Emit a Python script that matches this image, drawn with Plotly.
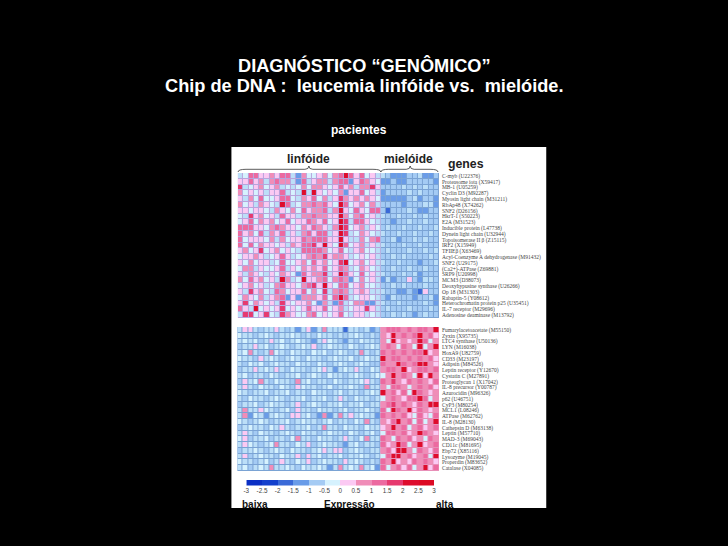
import plotly.graph_objects as go

# Expression level per cell, in half units (value = level / 2); rows run top to bottom.
TOP_LINF_A = [
[-1,0,3,3,1,1,2,1,3,3,-1,-3,2,0,0,1,2,0,2],
[1,1,3,1,2,-1,2,3,2,2,-1,-3,3,-1,1,2,2,-1,2],
[4,-1,0,1,2,0,1,2,-1,0,-1,0,2,0,2,2,1,0,1],
[2,0,1,0,1,-1,1,1,3,-1,0,-1,5,-1,5,1,0,1,0],
[1,-1,2,0,3,0,0,1,3,3,0,-1,2,1,3,0,2,-1,1],
[2,0,1,-1,2,1,0,-1,5,3,-1,0,2,2,3,2,3,1,0],
[1,1,0,1,1,0,-1,2,1,0,2,0,3,1,2,2,3,-1,2],
[0,-1,4,1,2,0,1,-1,3,1,1,-1,2,2,3,2,2,1,1],
[0,1,3,0,2,1,2,0,1,3,0,1,1,3,2,1,3,0,1],
[3,3,3,1,1,0,2,3,2,1,1,0,2,1,3,2,1,-1,2],
[3,1,2,0,3,-1,2,1,3,-1,1,-1,2,3,1,3,3,-1,1],
[3,0,1,1,1,0,2,-1,2,0,1,1,3,2,3,3,3,1,1],
[3,0,3,0,2,1,1,0,1,-1,2,1,3,3,4,1,5,1,0],
[1,2,0,1,4,0,1,2,0,1,0,-1,3,3,3,3,2,0,1],
[0,1,1,2,1,-1,0,1,3,1,-1,0,1,2,3,2,4,1,2],
[1,0,2,0,1,1,-1,0,3,0,0,1,2,0,3,1,2,0,1],
[0,2,2,-1,1,0,0,1,3,-1,1,0,2,1,2,1,3,0,1],
[1,-1,2,1,0,-1,1,0,2,1,0,-3,3,1,2,2,4,-1,1],
[2,0,3,1,2,0,1,-1,5,2,-1,0,5,1,1,2,3,0,2],
[0,1,2,0,1,-1,0,2,3,1,1,0,2,3,4,1,5,1,0],
[1,-1,4,1,2,0,-1,3,2,0,1,1,3,0,2,0,4,-1,2],
[0,2,1,0,2,-1,1,2,3,-3,1,-3,2,2,2,1,3,0,3],
[1,4,0,2,1,0,1,-1,4,1,0,1,1,2,0,-3,2,-1,-3],
[3,1,-1,5,0,1,0,1,4,0,1,0,1,3,1,1,3,0,1],
[-1,4,4,0,1,4,0,-1,4,2,1,0,0,2,3,0,1,0,1],
]
TOP_LINF_B = [
[3,5,3,1,3,0,1,-1],
[3,3,-3,1,3,2,1,0],
[3,1,2,-1,2,2,4,1],
[2,-3,1,1,3,0,1,-1],
[4,2,1,2,1,2,1,0],
[5,3,0,1,2,0,2,-1],
[5,1,0,3,1,0,3,3],
[5,2,0,2,3,0,1,-1],
[5,4,-1,3,3,1,0,-1],
[5,4,0,1,2,-1,1,0],
[5,4,-1,0,2,1,0,-1],
[5,1,-1,-1,2,0,2,3],
[5,3,0,1,2,-1,1,-1],
[3,0,-1,1,2,0,0,-1],
[2,1,-1,0,1,0,1,-1],
[4,5,0,1,2,0,1,-1],
[3,2,-1,0,2,1,0,-1],
[5,3,1,0,3,0,1,-1],
[3,2,-3,0,2,0,1,-1],
[3,3,0,1,2,0,0,-1],
[3,2,-1,1,2,1,-1,-1],
[5,3,-1,0,1,1,0,-1],
[3,-1,0,2,2,-3,-3,-1],
[2,-1,0,1,1,4,1,-1],
[3,0,-1,1,1,-1,0,-1],
]
TOP_MIEL = [
[-1,-2,-3,-3,-3,-2,-2,-1,-3,-3,-2],
[-3,-3,-2,-3,-3,-2,-2,-2,-2,-2,-3],
[-2,-2,-2,-2,-1,-2,-1,-2,-1,-2,-2],
[-3,-2,-2,-2,-2,-1,-2,-1,-2,-2,-2],
[-3,-3,-3,-3,-3,-2,-1,-3,-2,-2,-3],
[-2,-2,-2,-2,-3,-2,-2,-2,-1,-1,-3],
[-2,-4,-2,-2,-2,-1,-2,-3,-3,-2,-2],
[-1,-2,-2,-1,-2,-2,-1,-2,-1,-2,-2],
[-2,-2,-3,-2,-2,-1,-2,-2,-1,-2,-2],
[-2,-1,-2,-2,-1,-2,-2,-1,-2,-2,-1],
[-1,-2,-2,-1,-2,-2,-1,-2,-2,-1,-2],
[-2,-2,-1,-3,-2,-2,-1,-2,-1,-2,-2],
[-1,-2,-2,-2,-1,-2,-2,-1,-2,-2,-2],
[-2,-1,-2,-2,-2,-1,-2,-2,-1,-2,-1],
[-2,-2,-1,-2,-1,-2,-2,-2,-2,-1,-2],
[-1,-2,-2,-1,-2,-2,-2,-3,-2,-2,-1],
[-2,-2,-1,-2,-2,-1,-2,-2,-1,-2,-2],
[-1,-2,-2,-2,-1,-2,-1,-3,-2,-2,-2],
[-3,-1,-3,-2,-2,1,-2,-3,-1,-1,-2],
[-2,-2,-1,-2,-1,-2,-2,-2,-1,-2,-2],
[-1,-2,-2,-3,-3,-2,-3,-4,1,-2,-2],
[-2,-3,-1,-2,-2,-2,-3,-2,-2,-1,-3],
[-1,-2,-2,-1,-2,-2,-2,-2,-1,-2,-3],
[-2,-1,-2,-2,-2,-1,-2,-2,-2,-1,-2],
[-2,-2,-1,-2,-1,-2,-3,-2,-1,-2,-2],
]
BOTTOM_LINF = [
[-1,1,1,-1,-2,-1,-1,1,-1,-2,-1,-3,-1,1,-3,-1,2,-1,-1,-1,-4,-1,-1,-2,-1,-3,-2],
[0,-1,-1,-2,-1,0,-1,-2,-1,-1,0,-1,-2,-1,-2,0,-1,-1,-2,-1,-2,-1,0,-1,-2,-1,-2],
[-1,0,-1,0,-2,-1,1,-1,0,-2,-1,0,-1,-2,-3,-1,1,0,-1,-2,-3,-1,-2,0,-1,-1,-2],
[-2,-1,-1,1,-1,0,-2,-1,0,-1,-2,-1,0,-1,1,-2,-1,0,-1,-1,-2,0,-1,-2,-1,0,-1],
[-1,0,2,-1,-2,-1,2,0,-1,-2,0,-1,-1,-2,0,-1,0,-2,-1,0,-1,-2,-1,2,-1,-2,-1],
[0,-1,-1,-2,1,-1,0,-1,-2,-1,0,-1,-2,0,-1,-1,-2,-1,0,-1,-1,0,-2,-1,0,-1,-1],
[-1,-2,0,-1,0,-2,-1,0,-1,-1,-2,0,-1,-1,-2,0,-1,-2,-1,0,-1,-2,-1,0,-1,-2,-2],
[-2,-1,-1,1,-1,0,-1,1,-1,-2,0,-1,-1,-2,-1,0,1,-1,-3,-1,0,-1,1,-1,-2,0,-1],
[-1,0,-2,-1,-1,-2,0,-1,-2,-1,-1,0,-2,-1,0,-1,-2,0,-1,-1,-2,-1,0,-1,-2,-1,0],
[-2,1,-1,0,2,-1,-2,0,-1,-1,-2,2,-1,0,-2,-1,-1,-2,0,-1,-2,-1,-1,0,1,-1,-2],
[-1,1,-1,-2,0,-1,-1,-2,0,-1,-2,1,0,-1,-1,-2,-1,0,-2,-1,-1,0,-1,-2,2,-1,-1],
[0,-1,-2,-1,-1,0,-2,-1,-1,0,-2,-1,-1,-2,0,-1,-1,-2,-1,0,-2,-1,-1,-2,-1,0,-1],
[-1,-2,0,-1,-1,-2,-1,0,-1,-2,-1,-1,0,-2,-1,-1,0,-2,-1,1,-1,-2,0,-1,-1,-2,-1],
[-2,-1,-1,0,-2,-1,0,-1,-1,-2,-1,1,-2,-1,0,-1,-2,-1,-1,0,-2,-1,-1,0,-2,-1,-1],
[-1,2,-1,-1,1,0,-1,-2,-1,0,-2,1,-1,-1,-2,0,-1,-1,-2,-1,0,-2,-1,-1,0,-1,-2],
[-1,2,-3,0,-1,-3,-1,0,-1,-2,1,1,-1,0,-2,-3,2,-3,-1,2,-1,1,-1,0,-1,-1,-3],
[0,-1,-2,-1,0,-1,-2,-1,-1,0,-2,-1,0,-1,-1,-2,-1,0,-2,-1,-1,-2,0,-1,2,-1,-2],
[-2,-1,0,-1,-1,-2,0,-1,1,-1,-2,-1,-1,0,-2,-1,2,-1,-1,-2,0,-1,-1,-2,0,-1,-1],
[-1,1,-1,-2,0,-1,-1,-2,-1,0,-1,-2,0,-1,-1,-2,-1,0,-1,-1,-2,0,-1,-2,-1,0,-2],
[0,1,-2,-1,-1,0,-2,-1,-1,-2,0,2,-1,-1,-2,0,-1,-1,-2,-1,1,-1,-2,0,2,-1,-1],
[-1,1,0,-1,-2,-1,0,2,-1,-1,-2,0,-1,1,-2,-1,0,-1,-1,-2,-3,-1,0,-2,-1,-1,-2],
[-2,-1,-1,0,-1,-2,-1,0,-1,-2,0,-1,-1,-2,-1,0,1,-1,1,1,-2,-1,0,-1,-2,-1,-1],
[-1,1,-2,-1,0,-1,-1,-2,0,-1,-1,1,-2,1,-1,0,-2,-1,-1,0,-2,-1,-1,0,-1,-2,-1],
[0,-1,-1,-2,-1,0,-2,-1,1,-1,-2,0,-1,1,-2,-1,0,-1,-1,-2,1,-1,0,-1,-2,-1,-2],
[-1,0,-2,-1,0,-1,2,-1,-1,0,-1,-2,0,-1,-1,0,-1,-3,-1,2,-1,0,-1,2,-1,0,-3],
]
BOTTOM_MIEL = [
[2,3,3,3,2,3,2,3,3,2,5],
[2,1,5,2,3,2,3,5,2,3,1],
[2,0,5,1,2,1,2,5,3,0,2],
[2,3,2,0,3,2,0,5,0,2,5],
[3,2,3,2,3,2,3,3,5,1,2],
[5,2,3,3,2,3,2,3,2,3,1],
[3,2,2,5,3,2,3,5,5,2,1],
[2,3,3,2,5,1,2,3,3,2,3],
[0,2,5,2,3,2,0,5,1,5,2],
[3,2,4,2,1,3,2,3,2,1,3],
[2,0,3,3,2,0,2,3,2,3,1],
[5,2,3,1,3,0,5,3,2,1,2],
[0,2,3,2,1,3,3,5,3,0,2],
[2,3,4,2,3,2,1,3,2,5,5],
[3,0,5,3,2,5,1,3,2,1,2],
[3,2,3,2,3,1,0,3,1,0,3],
[2,1,3,5,2,3,0,3,0,2,5],
[1,2,5,2,3,0,2,3,1,2,3],
[0,3,3,2,3,1,2,5,3,2,1],
[3,2,0,3,2,3,1,2,0,3,2],
[3,1,2,5,3,0,2,5,1,2,3],
[2,3,1,5,5,2,0,3,2,1,3],
[0,3,5,5,2,3,1,2,3,0,5],
[3,2,5,1,2,1,3,2,3,2,1],
[3,0,2,3,1,3,0,2,5,1,3],
]
GENES_TOP = [
"C-myb (U22376)", "Proteasome iota (X59417)", "MB-1 (U05259)", "Cyclin D3 (M92287)",
"Myosin light chain (M31211)", "RbAp48 (X74262)", "SNF2 (D26156)", "HkrT-1 (S50223)",
"E2A (M31523)", "Inducible protein (L47738)", "Dynein light chain (U32944)",
"Topoisomerase II β (Z15115)", "IRF2 (X15949)", "TFIIEβ (X63469)",
"Acyl-Coenzyme A dehydrogenase (M91432)", "SNF2 (U29175)", "(Ca2+)-ATPase (Z69881)",
"SRP9 (U20998)", "MCM3 (D38073)", "Deoxyhypusine synthase (U26266)", "Op 18 (M31303)",
"Rabaptin-5 (Y08612)", "Heterochromatin protein p25 (U35451)", "IL-7 receptor (M29696)",
"Adenosine deaminase (M13792)",
]
GENES_BOTTOM = [
"Fumarylacetoacetate (M55150)", "Zyxin (X95735)", "LTC4 synthase (U50136)", "LYN (M16038)",
"HoxA9 (U82759)", "CD33 (M23197)", "Adipsin (M84526)", "Leptin receptor (Y12670)",
"Cystatin C (M27891)", "Proteoglycan 1 (X17042)", "IL-8 precursor (Y00787)",
"Azurocidin (M96326)", "p62 (U46751)", "CyP3 (M80254)", "MCL1 (L08246)", "ATPase (M62762)",
"IL-8 (M28130)", "Cathepsin D (M63138)", "Leptin (M57710)", "MAD-3 (M69043)",
"CD11c (M81695)", "Ebp72 (X85116)", "Lysozyme (M19045)", "Properdin (M83652)",
"Catalase (X04085)",
]
SCALE_TICKS = [-3, -2.5, -2, -1.5, -1, -0.5, 0, 0.5, 1, 1.5, 2, 2.5, 3]
SCALE_BINS = [-2.75, -2.25, -1.75, -1.25, -0.75, -0.25, 0.25, 0.75, 1.25, 1.75, 2.25, 2.75]
SCALE_VALUES = [-3, -2.5, -2, -1.5, -1, 0, 0.5, 1, 1.5, 2, 2.5, 3]

STOPS = [
    (-3, "#0b2fc4"), (-2.5, "#1440cc"), (-2, "#3a6ad8"), (-1.5, "#6a9ce8"), (-1, "#a4cbf4"),
    (-0.5, "#bcdff8"), (0, "#d6f2fe"), (0.5, "#fbc9f3"), (1, "#f08db8"), (1.5, "#ec6aa0"),
    (2, "#e63a70"), (2.5, "#de0c2c"), (3, "#dc0a24"),
]
COLORSCALE = [[(v + 3) / 6, c] for v, c in STOPS]
W, H = 728, 546
GRID_BLUE = "#7aa3d4"
GRID_MIXED = "#b8a4dc"
GRID_PINK = "#e88fb8"


def px(x):
    return x / W


def py(y):
    return 1 - y / H


top = [[v / 2 for v in a + b + c] for a, b, c in zip(TOP_LINF_A, TOP_LINF_B, TOP_MIEL)]
bottom = [[v / 2 for v in a + b] for a, b in zip(BOTTOM_LINF, BOTTOM_MIEL)]
for row in top + bottom:
    assert len(row) == 38

fig = go.Figure()
common = dict(colorscale=COLORSCALE, zmin=-3, zmax=3, showscale=False, hoverinfo="skip")
fig.add_trace(go.Heatmap(z=top, y=GENES_TOP, xgap=1, ygap=1, xaxis="x", yaxis="y", **common))
fig.add_trace(go.Heatmap(z=bottom, y=GENES_BOTTOM, xgap=1, ygap=1, xaxis="x2", yaxis="y2", **common))
fig.add_trace(go.Heatmap(z=[SCALE_VALUES], x=SCALE_BINS, y=[""], xaxis="x3", yaxis="y3", **common))

gene_axis = dict(type="category", autorange="reversed", side="right", showgrid=False, zeroline=False,
                 ticks="", ticklabelstandoff=2,
                 tickfont=dict(family="Liberation Serif", size=5.5, color="#444444"),
                 dtick=1, automargin=False)
plain_x = dict(showgrid=False, zeroline=False, showticklabels=False, ticks="")
fig.update_layout(
    width=W, height=H, margin=dict(l=0, r=0, t=0, b=0), autosize=False,
    paper_bgcolor="black", plot_bgcolor="rgba(0,0,0,0)", showlegend=False,
    xaxis=dict(domain=[px(236.5), px(439)], anchor="y", **plain_x),
    yaxis=dict(domain=[py(318), py(173)], anchor="x", **gene_axis),
    xaxis2=dict(domain=[px(236), px(439)], anchor="y2", **plain_x),
    yaxis2=dict(domain=[py(471), py(327)], anchor="x2", **gene_axis),
    xaxis3=dict(domain=[px(245), px(434)], anchor="y3", range=[-3, 3], tickvals=SCALE_TICKS,
                ticktext=[f"{t:g}" for t in SCALE_TICKS], showgrid=False, zeroline=False,
                ticks="", tickfont=dict(family="Liberation Sans", size=6.3, color="#444444"), tickangle=0),
    yaxis3=dict(domain=[py(485.5), py(480)], anchor="x3", showticklabels=False, showgrid=False,
                zeroline=False, ticks=""),
)


def brace(x0, xm, x1):
    t, b = 166, 172
    m = 169.3
    pts = [f"M{px(x0)},{py(b)}", f"Q{px(x0)},{py(m)} {px(x0+8)},{py(m)}",
           f"L{px(xm-4)},{py(m)}", f"Q{px(xm)},{py(m)} {px(xm)},{py(t)}",
           f"Q{px(xm)},{py(m)} {px(xm+4)},{py(m)}", f"L{px(x1-8)},{py(m)}",
           f"Q{px(x1)},{py(m)} {px(x1)},{py(b)}"]
    return dict(type="path", xref="paper", yref="paper", path=" ".join(pts),
                line=dict(color="#333333", width=0.8), layer="above")


def panel(x0, x1, y0, y1, color):
    return dict(type="rect", xref="paper", yref="paper", x0=px(x0), x1=px(x1), y0=py(y1), y1=py(y0),
                fillcolor=color, line=dict(width=0), layer="below")


fig.update_layout(shapes=[
    panel(230, 547, 147, 508, "white"),
    panel(236.5, 380.4, 173, 318, GRID_MIXED),
    panel(380.4, 439, 173, 318, GRID_BLUE),
    panel(236, 380.2, 327, 471, GRID_BLUE),
    panel(380.2, 439, 327, 471, GRID_PINK),
    brace(236.7, 308, 380.5),
    brace(380.5, 410, 438),
])


def label(text, x, y, size, color="white", family="Liberation Sans", bold=True):
    fig.add_annotation(xref="paper", yref="paper", x=px(x), y=py(y), showarrow=False,
                       xanchor="center", yanchor="middle",
                       text=f"<b>{text}</b>" if bold else text,
                       font=dict(family=family, size=size, color=color))


label("DIAGNÓSTICO “GENÔMICO”", 364, 65, 18.2)
label("Chip de DNA :  leucemia linfóide vs.  mielóide.", 364, 86, 18.2)
label("pacientes", 358, 130, 12)
label("linfóide", 308, 159, 12, "#222222")
label("mielóide", 408, 159, 12, "#222222")
label("genes", 466, 164, 12.3, "#222222")
label("baixa", 254, 504, 10, "#111111")
label("Expressão", 349, 504, 10, "#111111")
label("alta", 445, 504, 10, "#111111")

fig.write_html("out.html", config=dict(displayModeBar=False),
               post_script="document.body.style.margin='0';document.body.style.background='black';")
